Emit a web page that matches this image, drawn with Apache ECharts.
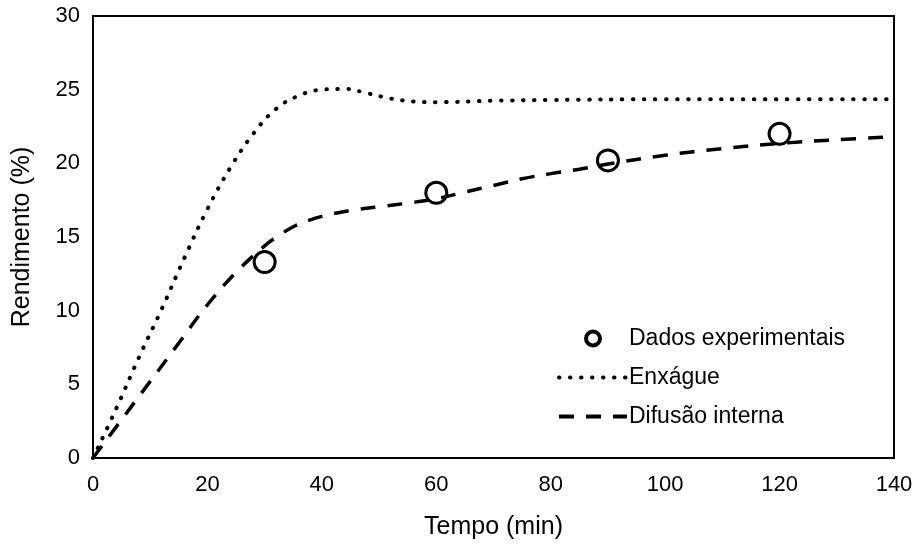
<!DOCTYPE html>
<html>
<head>
<meta charset="utf-8">
<script src="https://cdn.jsdelivr.net/npm/echarts@6/dist/echarts.min.js"></script>
<style>
  html, body { margin: 0; padding: 0; background: #fff; }
  #chart { width: 917px; height: 545px; }
</style>
</head>
<body>
<div id="chart"></div>
<script>
// dados
const expX = [30, 60, 90, 120];
const expY = [13.3, 18.0, 20.2, 22.0];

const enxX = [0, 4, 8, 12, 16, 20, 24, 28, 32, 36, 40, 44, 48, 52, 56, 60, 70, 80, 100, 120, 140];
const enxY = [0, 3.3, 6.8, 10.1, 13.6, 16.9, 19.7, 22.0, 23.7, 24.6, 25.0, 25.05, 24.75, 24.4, 24.2, 24.15, 24.25, 24.3, 24.35, 24.35, 24.35];

const difX = [0, 5, 10, 15, 20, 25, 30, 32.5, 35, 37.5, 40, 45, 50, 55, 60, 65, 70, 75, 80, 85, 90, 100, 110, 120, 130, 140];
const difY = [0, 2.6, 5.2, 7.8, 10.4, 12.6, 14.4, 15.1, 15.7, 16.1, 16.4, 16.8, 17.05, 17.3, 17.6, 18.05, 18.5, 18.95, 19.3, 19.6, 19.95, 20.55, 21.0, 21.35, 21.6, 21.8];

const xTicks = [0, 20, 40, 60, 80, 100, 120, 140];
const yTicks = [0, 5, 10, 15, 20, 25, 30];

const font = 'Liberation Sans, Arial, sans-serif';
const zip = (xs, ys) => xs.map((x, i) => [x, ys[i]]);
const noMark = { color: 'rgba(0,0,0,0)', borderColor: 'rgba(0,0,0,0)', borderWidth: 0 };
const dotted = { color: '#000', width: 4, type: [0.5, 10.5], cap: 'round' };
const dashed = { color: '#000', width: 4, type: [15, 12] };

const chart = echarts.init(document.getElementById('chart'));
chart.setOption({
    backgroundColor: '#fff',
    animation: false,
    grid: {
        left: 93, top: 16, right: 23, bottom: 82,
        show: true, borderColor: '#000', borderWidth: 2
    },
    legend: {
        orient: 'vertical',
        left: 552, top: 322,
        itemWidth: 68, itemHeight: 14,
        itemGap: 16,
        textStyle: { fontFamily: font, fontSize: 23, color: '#000', padding: [0, 0, 0, -3] },
        data: [
            { name: 'Dados experimentais', itemStyle: { color: 'rgba(0,0,0,0)', borderColor: '#000', borderWidth: 4 } },
            { name: 'Enxágue', itemStyle: noMark, lineStyle: dotted },
            { name: 'Difusão interna', itemStyle: noMark, lineStyle: dashed }
        ]
    },
    xAxis: {
        type: 'value', min: xTicks[0], max: xTicks[xTicks.length - 1], interval: 20,
        name: 'Tempo (min)', nameLocation: 'middle', nameGap: 57,
        nameTextStyle: { fontFamily: font, fontSize: 25, color: '#000' },
        axisLine: { lineStyle: { color: '#000', width: 2 } },
        axisTick: { show: false },
        splitLine: { show: false },
        axisLabel: { fontFamily: font, fontSize: 22, color: '#000', margin: 16 }
    },
    yAxis: {
        type: 'value', min: yTicks[0], max: yTicks[yTicks.length - 1], interval: 5,
        name: 'Rendimento (%)', nameLocation: 'middle', nameGap: 58,
        nameTextStyle: { fontFamily: font, fontSize: 25, color: '#000' },
        axisLine: { lineStyle: { color: '#000', width: 2 } },
        axisTick: { show: false },
        splitLine: { show: false },
        axisLabel: { fontFamily: font, fontSize: 22, color: '#000', margin: 13 }
    },
    series: [
        {
            name: 'Enxágue', type: 'line', smooth: 0.4, symbol: 'none',
            data: zip(enxX, enxY),
            lineStyle: dotted,
            itemStyle: { color: '#000' }
        },
        {
            name: 'Difusão interna', type: 'line', smooth: 0.4, symbol: 'none',
            data: zip(difX, difY),
            lineStyle: { color: '#000', width: 3.5, type: [15, 12] },
            itemStyle: { color: '#000' }
        },
        {
            name: 'Dados experimentais', type: 'scatter', symbol: 'circle', symbolSize: 21,
            data: zip(expX, expY),
            itemStyle: { color: 'rgba(0,0,0,0)', borderColor: '#000', borderWidth: 3, opacity: 1 }
        }
    ]
});
</script>
</body>
</html>
